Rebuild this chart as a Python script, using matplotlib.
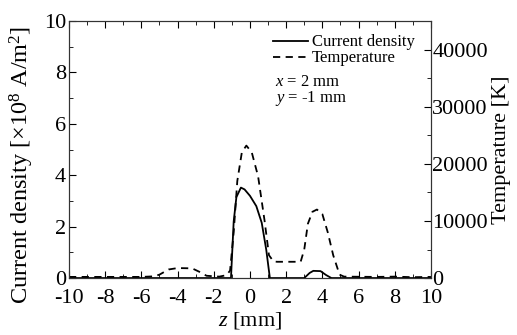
import numpy as np
import matplotlib.pyplot as plt
from matplotlib.ticker import MultipleLocator

plt.rcParams['font.family'] = ['Liberation Serif', 'DejaVu Serif']
plt.rcParams['mathtext.fontset'] = 'custom'
plt.rcParams['mathtext.rm'] = 'Liberation Serif'
plt.rcParams['mathtext.it'] = 'Liberation Serif:italic'
plt.rcParams['axes.unicode_minus'] = False

# current density [x1e8 A/m2] vs z [mm]
z_cd = [-10, -1.05, -0.9, -0.75, -0.5, -0.3, 0.0, 0.35, 0.65, 0.9, 1.1,
        3.0, 3.3, 3.5, 3.9, 4.2, 4.5, 10]
cd = [0, 0, 2.2, 3.15, 3.52, 3.45, 3.2, 2.8, 2.15, 1.1, 0,
      0, 0.2, 0.28, 0.27, 0.12, 0, 0]

# temperature [K] vs z [mm]
z_t = [-10, -6, -5.3, -5.0, -4.5, -4.0, -3.2, -2.8, -2.4, -1.7, -1.3, -1.1,
       -0.9, -0.7, -0.45, -0.2, 0.1, 0.45, 0.8, 1.05, 1.3, 1.5, 2.8,
       3.0, 3.2, 3.45, 3.7, 4.0, 4.3, 4.6, 4.95, 5.2, 7, 8, 9, 10]
temp = [200, 200, 300, 600, 1500, 1750, 1700, 1100, 400, 250, 500, 1300,
        8000, 17000, 22000, 23200, 22000, 17800, 10200, 4000, 2900, 2850, 2850,
        5000, 9500, 11600, 12000, 11200, 8000, 4000, 600, 250, 200, 250, 150, 200]

fig = plt.figure(figsize=(5.17, 3.35), dpi=100)
ax = fig.add_axes([0.1335, 0.170, 0.7, 0.767])
ax2 = ax.twinx()

l1, = ax.plot(z_cd, cd, color='black', lw=1.3)
l2, = ax2.plot(z_t, temp, color='black', lw=1.3, ls=(0, (4, 3)))

ax.set_xlim(-10, 10)
ax.set_ylim(0, 10)
ax2.set_ylim(0, 45000)

ax.xaxis.set_major_locator(MultipleLocator(2))
ax.xaxis.set_minor_locator(MultipleLocator(1))
ax.yaxis.set_major_locator(MultipleLocator(2))
ax.yaxis.set_minor_locator(MultipleLocator(1))
ax2.yaxis.set_major_locator(MultipleLocator(10000))
ax2.yaxis.set_minor_locator(MultipleLocator(5000))

ax.tick_params(which='both', direction='in', top=True, right=False, labelsize=16)
ax.tick_params(axis='x', pad=8)
ax.tick_params(axis='y', pad=2)
ax.tick_params(which='major', length=5)
ax.tick_params(which='minor', length=3)
ax2.tick_params(which='both', direction='in', labelsize=16, pad=1)
ax2.tick_params(which='major', length=5)
ax2.tick_params(which='minor', length=3)

for a in (ax, ax2):
    for s in a.spines.values():
        s.set_linewidth(0.8)
        s.set_color('#333333')

ax.set_xlabel('$z$ [mm]', fontsize=16, labelpad=1)
ax.set_ylabel('Current density [×10$^8$ A/m$^2$]', fontsize=17.5, labelpad=2)
ax.yaxis.set_label_coords(-0.09, 0.44)
ax2.set_ylabel('Temperature [K]', fontsize=16, labelpad=3)

leg = ax.legend([l1, l2], ['Current density', 'Temperature'], loc='upper left',
                bbox_to_anchor=(0.565, 0.948), frameon=False, fontsize=12,
                handlelength=2.1, handletextpad=0.2, labelspacing=0.0,
                borderpad=0, borderaxespad=0)
ax.text(0.569, 0.764, '$x$ = 2 mm', transform=ax.transAxes,
        fontsize=12, va='center', ha='left')
ax.text(0.569, 0.700, '$y$ = -1 mm', transform=ax.transAxes,
        fontsize=12, va='center', ha='left')

fig.savefig('out.png', dpi=100)
